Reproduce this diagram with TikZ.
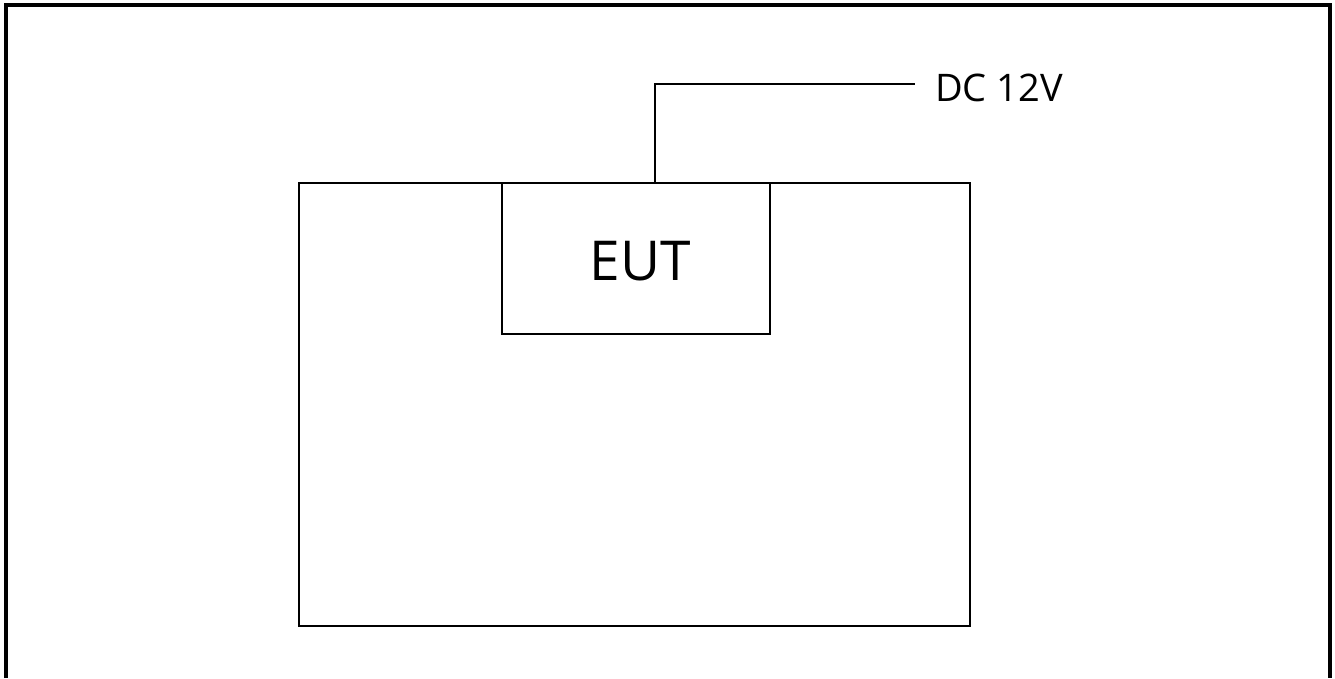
\documentclass[tikz,border=0pt]{standalone}
\usepackage{fontspec}
\setmainfont{Open Sans}
\begin{document}
\begin{tikzpicture}[x=1pt,y=-1pt,
  thinline/.style={draw=black,line width=1.1pt},
  box/.style={thinline,rectangle,inner sep=0pt},
  frameline/.style={draw=black,line width=4pt,line join=miter}]
\useasboundingbox (0,0) rectangle (1335,678);
% page frame, open at the bottom
\draw[frameline] (6,678) -- (6,4.5) -- (1330,4.5) -- (1330,678);
% enclosure and equipment under test
\node[box,minimum width=671pt,minimum height=443pt] (encl) at (634.5,404.5) {};
\node[box,minimum width=268pt,minimum height=151pt] (eut) at (636,258.5) {};
\node[inner sep=0pt,anchor=base,font=\fontsize{55}{60}\selectfont] (eutlabel) at (640,280) {EUT};
% supply lead
\coordinate (tap) at (655,183);
\coordinate (lead) at (915,84);
\node[anchor=base west,inner sep=0pt,font=\fontsize{38}{42}\selectfont] (dc) at (935,101.5) {DC 12V};
\draw[thinline] (tap) |- (lead);
\end{tikzpicture}
\end{document}
